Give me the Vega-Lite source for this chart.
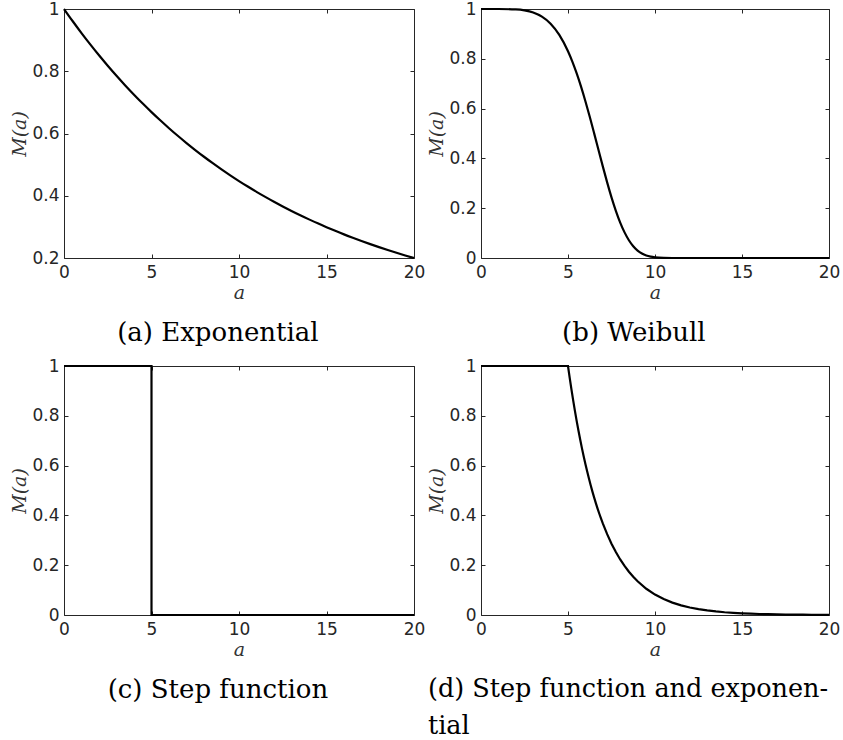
{
  "$schema": "https://vega.github.io/schema/vega-lite/v6.json",
  "background": "white",
  "padding": {"left": 10, "top": 0, "right": 0, "bottom": 0},
  "columns": 2,
  "bounds": "flush",
  "spacing": {"row": 108, "column": 67},
  "datasets": {
    "expo": [
      {"a": 0, "m": 1}, {"a": 0.5, "m": 0.9606}, {"a": 1, "m": 0.9227}, {"a": 1.5, "m": 0.8863},
      {"a": 2, "m": 0.8513}, {"a": 2.5, "m": 0.8178}, {"a": 3, "m": 0.7855}, {"a": 3.5, "m": 0.7545},
      {"a": 4, "m": 0.7248}, {"a": 4.5, "m": 0.6962}, {"a": 5, "m": 0.6687}, {"a": 5.5, "m": 0.6424},
      {"a": 6, "m": 0.617}, {"a": 6.5, "m": 0.5927}, {"a": 7, "m": 0.5693}, {"a": 7.5, "m": 0.5469},
      {"a": 8, "m": 0.5253}, {"a": 8.5, "m": 0.5046}, {"a": 9, "m": 0.4847}, {"a": 9.5, "m": 0.4656},
      {"a": 10, "m": 0.4472}, {"a": 10.5, "m": 0.4296}, {"a": 11, "m": 0.4126}, {"a": 11.5, "m": 0.3964},
      {"a": 12, "m": 0.3807}, {"a": 12.5, "m": 0.3657}, {"a": 13, "m": 0.3513}, {"a": 13.5, "m": 0.3374},
      {"a": 14, "m": 0.3241}, {"a": 14.5, "m": 0.3113}, {"a": 15, "m": 0.2991}, {"a": 15.5, "m": 0.2873},
      {"a": 16, "m": 0.2759}, {"a": 16.5, "m": 0.2651}, {"a": 17, "m": 0.2546}, {"a": 17.5, "m": 0.2446},
      {"a": 18, "m": 0.2349}, {"a": 18.5, "m": 0.2257}, {"a": 19, "m": 0.2168}, {"a": 19.5, "m": 0.2082},
      {"a": 20, "m": 0.2}
    ],
    "weibull": [
      {"a": 0, "m": 1}, {"a": 1, "m": 0.9999}, {"a": 2, "m": 0.9981}, {"a": 2.5, "m": 0.9942},
      {"a": 3, "m": 0.9857}, {"a": 3.5, "m": 0.9692}, {"a": 4, "m": 0.9409}, {"a": 4.5, "m": 0.896},
      {"a": 5, "m": 0.8303}, {"a": 5.25, "m": 0.7888}, {"a": 5.5, "m": 0.7412}, {"a": 5.75, "m": 0.688},
      {"a": 6, "m": 0.6296}, {"a": 6.25, "m": 0.567}, {"a": 6.5, "m": 0.5014}, {"a": 6.75, "m": 0.4344},
      {"a": 7, "m": 0.3679}, {"a": 7.25, "m": 0.3037}, {"a": 7.5, "m": 0.2437}, {"a": 7.75, "m": 0.1895},
      {"a": 8, "m": 0.1423}, {"a": 8.25, "m": 0.1029}, {"a": 8.5, "m": 0.0714}, {"a": 8.75, "m": 0.0473},
      {"a": 9, "m": 0.0298}, {"a": 9.25, "m": 0.0178}, {"a": 9.5, "m": 0.01}, {"a": 9.75, "m": 0.0053},
      {"a": 10, "m": 0.0026}, {"a": 10.5, "m": 0.0005}, {"a": 11, "m": 0.0001}, {"a": 12, "m": 0},
      {"a": 15, "m": 0}, {"a": 20, "m": 0}
    ],
    "step": [
      {"i": 0, "a": 0, "m": 1}, {"i": 1, "a": 5, "m": 1}, {"i": 2, "a": 5, "m": 0}, {"i": 3, "a": 20, "m": 0}
    ],
    "stepexp": [
      {"a": 0, "m": 1}, {"a": 5, "m": 1}, {"a": 5.1, "m": 0.9512}, {"a": 5.2, "m": 0.9048},
      {"a": 5.3, "m": 0.8607}, {"a": 5.4, "m": 0.8187}, {"a": 5.5, "m": 0.7788}, {"a": 5.6, "m": 0.7408},
      {"a": 5.7, "m": 0.7047}, {"a": 5.8, "m": 0.6703}, {"a": 5.9, "m": 0.6376}, {"a": 6, "m": 0.6065},
      {"a": 6.1, "m": 0.5769}, {"a": 6.2, "m": 0.5488}, {"a": 6.3, "m": 0.522}, {"a": 6.4, "m": 0.4966},
      {"a": 6.5, "m": 0.4724}, {"a": 6.6, "m": 0.4493}, {"a": 6.7, "m": 0.4274}, {"a": 6.8, "m": 0.4066},
      {"a": 6.9, "m": 0.3867}, {"a": 7, "m": 0.3679}, {"a": 7.25, "m": 0.3247}, {"a": 7.5, "m": 0.2865},
      {"a": 7.75, "m": 0.2528}, {"a": 8, "m": 0.2231}, {"a": 8.25, "m": 0.1969}, {"a": 8.5, "m": 0.1738},
      {"a": 8.75, "m": 0.1534}, {"a": 9, "m": 0.1353}, {"a": 9.5, "m": 0.1054}, {"a": 10, "m": 0.0821},
      {"a": 10.5, "m": 0.0639}, {"a": 11, "m": 0.0498}, {"a": 11.5, "m": 0.0388}, {"a": 12, "m": 0.0302},
      {"a": 12.5, "m": 0.0235}, {"a": 13, "m": 0.0183}, {"a": 13.5, "m": 0.0143}, {"a": 14, "m": 0.0111},
      {"a": 14.5, "m": 0.0087}, {"a": 15, "m": 0.0067}, {"a": 15.5, "m": 0.0053}, {"a": 16, "m": 0.0041},
      {"a": 16.5, "m": 0.0032}, {"a": 17, "m": 0.0025}, {"a": 17.5, "m": 0.0019}, {"a": 18, "m": 0.0015},
      {"a": 18.5, "m": 0.0012}, {"a": 19, "m": 0.0009}, {"a": 19.5, "m": 0.0007}, {"a": 20, "m": 0.0006}
    ]
  },
  "config": {
    "view": {"stroke": null},
    "axis": {
      "grid": false,
      "labelFont": "DejaVu Sans",
      "labelFontSize": 17,
      "labelColor": "#262626",
      "labelFlush": false,
      "labelOverlap": false,
      "domainColor": "#262626",
      "domainWidth": 1,
      "tickColor": "#262626",
      "tickWidth": 1,
      "tickSize": -4,
      "titleFont": "DejaVu Serif",
      "titleFontStyle": "italic",
      "titleFontWeight": "normal",
      "titleFontSize": 19,
      "titleColor": "#333333"
    },
    "axisX": {"labelPadding": 10, "titlePadding": 3},
    "axisY": {"labelPadding": 9, "titlePadding": 2},
    "title": {
      "font": "DejaVu Serif",
      "fontSize": 26,
      "fontWeight": "normal",
      "color": "black",
      "orient": "bottom",
      "frame": "bounds",
      "offset": 18,
      "lineHeight": 37
    }
  },
  "concat": [
    {
      "width": 350,
      "height": 249,
      "title": {"text": "(a) Exponential", "anchor": "middle"},
      "data": {"name": "expo"},
      "resolve": {"axis": {"x": "independent", "y": "independent"}},
      "layer": [
        {
          "mark": {"type": "line", "color": "black", "strokeWidth": 2.2, "interpolate": "monotone"},
          "encoding": {
            "x": {"field": "a", "type": "quantitative", "scale": {"domain": [0, 20]},
                  "axis": {"title": "a", "values": [0, 5, 10, 15, 20]}},
            "y": {"field": "m", "type": "quantitative", "scale": {"domain": [0.2, 1]},
                  "axis": {"title": "M(a)", "values": [0.2, 0.4, 0.6, 0.8, 1], "format": "~g"}}
          }
        },
        {
          "mark": {"type": "point", "opacity": 0},
          "encoding": {
            "x": {"field": "a", "type": "quantitative",
                  "axis": {"orient": "top", "title": null, "labels": false, "values": [0, 5, 10, 15, 20]}},
            "y": {"field": "m", "type": "quantitative",
                  "axis": {"orient": "right", "title": null, "labels": false, "values": [0.2, 0.4, 0.6, 0.8, 1]}}
          }
        }
      ]
    },
    {
      "width": 348,
      "height": 249,
      "title": {"text": "(b) Weibull", "anchor": "middle"},
      "data": {"name": "weibull"},
      "resolve": {"axis": {"x": "independent", "y": "independent"}},
      "layer": [
        {
          "mark": {"type": "line", "color": "black", "strokeWidth": 2.2, "interpolate": "monotone"},
          "encoding": {
            "x": {"field": "a", "type": "quantitative", "scale": {"domain": [0, 20]},
                  "axis": {"title": "a", "values": [0, 5, 10, 15, 20]}},
            "y": {"field": "m", "type": "quantitative", "scale": {"domain": [0, 1]},
                  "axis": {"title": "M(a)", "values": [0, 0.2, 0.4, 0.6, 0.8, 1], "format": "~g"}}
          }
        },
        {
          "mark": {"type": "point", "opacity": 0},
          "encoding": {
            "x": {"field": "a", "type": "quantitative",
                  "axis": {"orient": "top", "title": null, "labels": false, "values": [0, 5, 10, 15, 20]}},
            "y": {"field": "m", "type": "quantitative",
                  "axis": {"orient": "right", "title": null, "labels": false, "values": [0, 0.2, 0.4, 0.6, 0.8, 1]}}
          }
        }
      ]
    },
    {
      "width": 350,
      "height": 249,
      "title": {"text": "(c) Step function", "anchor": "middle"},
      "data": {"name": "step"},
      "resolve": {"axis": {"x": "independent", "y": "independent"}},
      "layer": [
        {
          "mark": {"type": "line", "color": "black", "strokeWidth": 2.2},
          "encoding": {
            "x": {"field": "a", "type": "quantitative", "scale": {"domain": [0, 20]},
                  "axis": {"title": "a", "values": [0, 5, 10, 15, 20]}},
            "y": {"field": "m", "type": "quantitative", "scale": {"domain": [0, 1]},
                  "axis": {"title": "M(a)", "values": [0, 0.2, 0.4, 0.6, 0.8, 1], "format": "~g"}},
            "order": {"field": "i", "type": "quantitative"}
          }
        },
        {
          "mark": {"type": "point", "opacity": 0},
          "encoding": {
            "x": {"field": "a", "type": "quantitative",
                  "axis": {"orient": "top", "title": null, "labels": false, "values": [0, 5, 10, 15, 20]}},
            "y": {"field": "m", "type": "quantitative",
                  "axis": {"orient": "right", "title": null, "labels": false, "values": [0, 0.2, 0.4, 0.6, 0.8, 1]}}
          }
        }
      ]
    },
    {
      "width": 348,
      "height": 249,
      "title": {"text": ["(d) Step function and exponen-", "tial"], "anchor": "start", "fontSize": 25.5},
      "data": {"name": "stepexp"},
      "resolve": {"axis": {"x": "independent", "y": "independent"}},
      "layer": [
        {
          "mark": {"type": "line", "color": "black", "strokeWidth": 2.2},
          "encoding": {
            "x": {"field": "a", "type": "quantitative", "scale": {"domain": [0, 20]},
                  "axis": {"title": "a", "values": [0, 5, 10, 15, 20]}},
            "y": {"field": "m", "type": "quantitative", "scale": {"domain": [0, 1]},
                  "axis": {"title": "M(a)", "values": [0, 0.2, 0.4, 0.6, 0.8, 1], "format": "~g"}}
          }
        },
        {
          "mark": {"type": "point", "opacity": 0},
          "encoding": {
            "x": {"field": "a", "type": "quantitative",
                  "axis": {"orient": "top", "title": null, "labels": false, "values": [0, 5, 10, 15, 20]}},
            "y": {"field": "m", "type": "quantitative",
                  "axis": {"orient": "right", "title": null, "labels": false, "values": [0, 0.2, 0.4, 0.6, 0.8, 1]}}
          }
        }
      ]
    }
  ]
}
